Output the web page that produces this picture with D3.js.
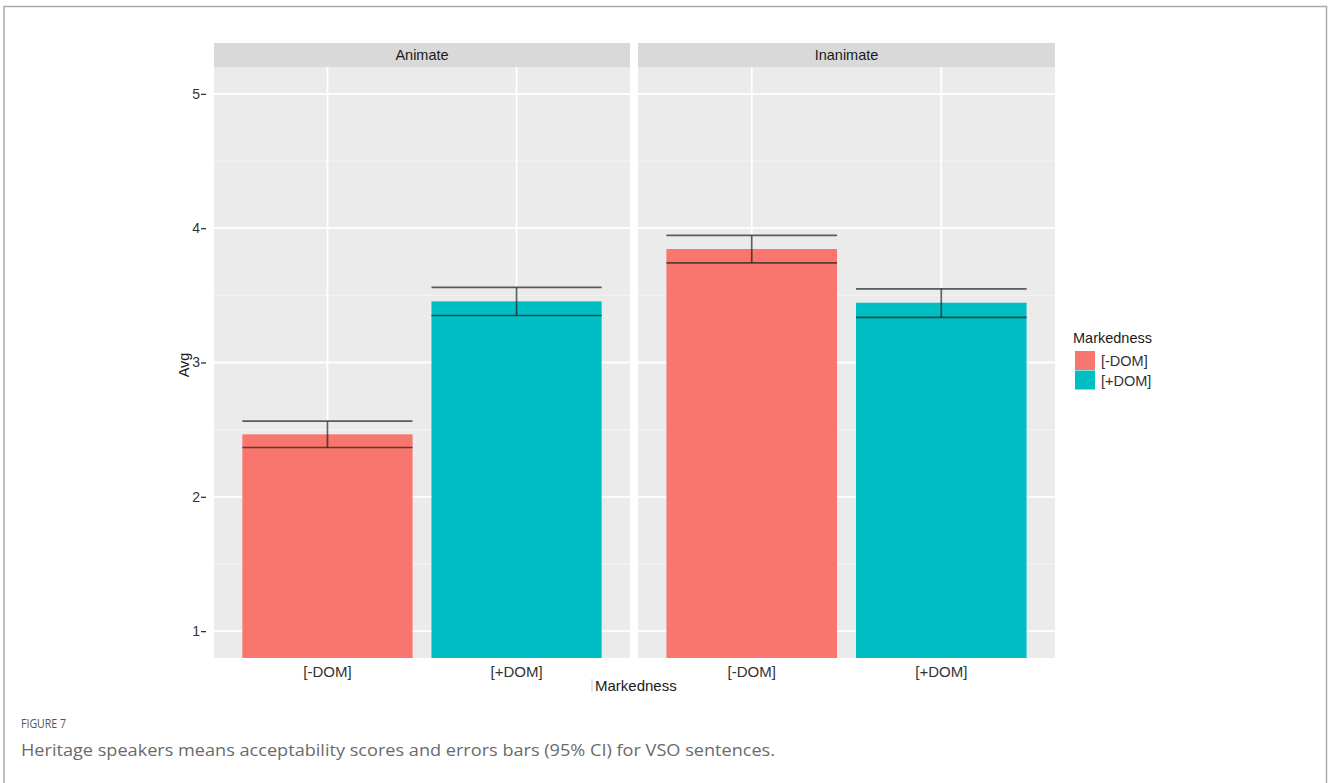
<!DOCTYPE html>
<html>
<head>
<meta charset="utf-8">
<script src="https://cdn.jsdelivr.net/npm/d3@7"></script>
<style>
  html, body { margin: 0; padding: 0; background: #fff; }
  svg { display: block; }
</style>
</head>
<body>
<svg id="fig" width="1328" height="783"></svg>
<script>
// Facets, groups and mean acceptability scores with 95% CI bounds
const facets = ["Animate", "Inanimate"];
const markedness = ["[-DOM]", "[+DOM]"];
const avgAnimate = [2.465, 3.455];
const avgInanimate = [3.845, 3.445];
const ciLowAnimate = [2.367, 3.350];
const ciHighAnimate = [2.563, 3.560];
const ciLowInanimate = [3.742, 3.336];
const ciHighInanimate = [3.947, 3.548];
const yTicks = [1, 2, 3, 4, 5];
const yMinor = [1.5, 2.5, 3.5, 4.5];
const fillColors = ["#F8766D", "#00BFC4"];

const rows = [];
facets.forEach((f, fi) => {
  const avg = fi === 0 ? avgAnimate : avgInanimate;
  const lo = fi === 0 ? ciLowAnimate : ciLowInanimate;
  const hi = fi === 0 ? ciHighAnimate : ciHighInanimate;
  markedness.forEach((m, mi) => rows.push({ facet: f, mark: m, avg: avg[mi], lo: lo[mi], hi: hi[mi] }));
});

const svg = d3.select("#fig");
const FONT = "'Liberation Sans', Arial, Helvetica, sans-serif";
const CAPFONT = "'Open Sans', Lato, sans-serif";

// figure frame (open at the bottom)
svg.append("path")
  .attr("d", "M4,783 V6.5 H1326.5 V783")
  .attr("fill", "none").attr("stroke", "#aaaaaa").attr("stroke-width", 1.5);

const panelTop = 67, panelBottom = 658, stripTop = 43;
const panelX = { "Animate": [214, 630], "Inanimate": [638, 1055] };

// y scale: coord limits 1..5 with 5% expansion
const y = d3.scaleLinear().domain([0.8, 5.2]).range([panelBottom, panelTop]);

facets.forEach(f => {
  const [x0, x1] = panelX[f];
  // discrete x: two categories, 0.6 units of expansion on each side
  const x = d3.scalePoint().domain(markedness).range([x0 + (x1 - x0) * 0.6 / 2.2, x1 - (x1 - x0) * 0.6 / 2.2]);
  const unit = (x1 - x0) / 2.2;
  const cx = m => x(m);
  const g = svg.append("g");

  // strip
  g.append("rect").attr("x", x0).attr("y", stripTop).attr("width", x1 - x0).attr("height", panelTop - stripTop)
    .attr("fill", "#D9D9D9");
  g.append("text").attr("x", (x0 + x1) / 2).attr("y", (stripTop + panelTop) / 2 + 5)
    .attr("text-anchor", "middle").attr("font-family", FONT).attr("font-size", 14.5)
    .attr("fill", "#1a1a1a").text(f);

  // panel background
  g.append("rect").attr("x", x0).attr("y", panelTop).attr("width", x1 - x0).attr("height", panelBottom - panelTop)
    .attr("fill", "#EBEBEB");

  // minor grid
  g.selectAll(".ymin").data(yMinor).join("line")
    .attr("x1", x0).attr("x2", x1).attr("y1", d => y(d)).attr("y2", d => y(d))
    .attr("stroke", "#F5F5F5").attr("stroke-width", 1);
  // major grid
  g.selectAll(".ymaj").data(yTicks).join("line")
    .attr("x1", x0).attr("x2", x1).attr("y1", d => y(d)).attr("y2", d => y(d))
    .attr("stroke", "#FFFFFF").attr("stroke-width", 1.8);
  g.selectAll(".xmaj").data(markedness).join("line")
    .attr("x1", d => cx(d)).attr("x2", d => cx(d)).attr("y1", panelTop).attr("y2", panelBottom)
    .attr("stroke", "#FFFFFF").attr("stroke-width", 1.8);

  const data = rows.filter(r => r.facet === f);
  const bw = unit * 0.9;

  // bars
  g.selectAll(".bar").data(data).join("rect")
    .attr("x", d => cx(d.mark) - bw / 2).attr("width", bw)
    .attr("y", d => y(d.avg)).attr("height", d => panelBottom - y(d.avg))
    .attr("fill", d => fillColors[markedness.indexOf(d.mark)]);

  // error bars
  const eb = g.selectAll(".eb").data(data).join("g")
    .attr("stroke", "#222").attr("stroke-opacity", 0.72).attr("stroke-width", 1.7).attr("fill", "none");
  eb.append("line").attr("x1", d => cx(d.mark)).attr("x2", d => cx(d.mark))
    .attr("y1", d => y(d.lo)).attr("y2", d => y(d.hi));
  eb.append("line").attr("x1", d => cx(d.mark) - bw / 2).attr("x2", d => cx(d.mark) + bw / 2)
    .attr("y1", d => y(d.hi)).attr("y2", d => y(d.hi));
  eb.append("line").attr("x1", d => cx(d.mark) - bw / 2).attr("x2", d => cx(d.mark) + bw / 2)
    .attr("y1", d => y(d.lo)).attr("y2", d => y(d.lo));

  // x tick labels
  g.selectAll(".xl").data(markedness).join("text")
    .attr("x", d => cx(d)).attr("y", 677)
    .attr("text-anchor", "middle").attr("font-family", FONT).attr("font-size", 15)
    .attr("fill", "#333").text(d => d);
});

// y axis (ticks sit just left of the labels)
const yAxis = d3.axisLeft(y).tickValues(yTicks).tickFormat(d3.format("d")).tickSize(5).tickPadding(1);
const ya = svg.append("g").attr("transform", "translate(206,0)").call(yAxis);
ya.select(".domain").remove();
ya.selectAll(".tick line").attr("stroke", "#333").attr("stroke-width", 1.3);
ya.selectAll(".tick text").attr("font-family", FONT).attr("font-size", 14).attr("fill", "#333");

// y axis title
svg.append("text").attr("transform", "translate(189,365) rotate(-90)")
  .attr("text-anchor", "middle").attr("font-family", FONT).attr("font-size", 14.5)
  .attr("fill", "#1a1a1a").text("Avg");

// x axis title
svg.append("line").attr("x1", 592).attr("x2", 592).attr("y1", 679).attr("y2", 692)
  .attr("stroke", "#cccccc").attr("stroke-width", 1);
svg.append("text").attr("x", 595).attr("y", 691)
  .attr("font-family", FONT).attr("font-size", 15).attr("fill", "#1a1a1a").text("Markedness");

// legend
const lg = svg.append("g").attr("transform", "translate(1073,0)");
lg.append("text").attr("x", 0).attr("y", 343).attr("font-family", FONT).attr("font-size", 14.5)
  .attr("fill", "#1a1a1a").text("Markedness");
lg.selectAll(".key").data(markedness).join("rect")
  .attr("x", 2).attr("y", (d, i) => 351 + i * 19.5).attr("width", 20).attr("height", 19)
  .attr("fill", (d, i) => fillColors[i]);
lg.selectAll(".kl").data(markedness).join("text")
  .attr("x", 28).attr("y", (d, i) => 366 + i * 19.5)
  .attr("font-family", FONT).attr("font-size", 14.5).attr("fill", "#333").text(d => d);

// caption
svg.append("text").attr("x", 21).attr("y", 728)
  .attr("font-family", CAPFONT).attr("font-size", 12)
  .attr("textLength", 45).attr("lengthAdjust", "spacingAndGlyphs")
  .attr("fill", "#555").text("FIGURE 7");
svg.append("text").attr("x", 21).attr("y", 756)
  .attr("font-family", CAPFONT).attr("font-size", 16)
  .attr("textLength", 754).attr("lengthAdjust", "spacingAndGlyphs")
  .attr("fill", "#6a6a6a").text("Heritage speakers means acceptability scores and errors bars (95% CI) for VSO sentences.");
</script>
</body>
</html>
